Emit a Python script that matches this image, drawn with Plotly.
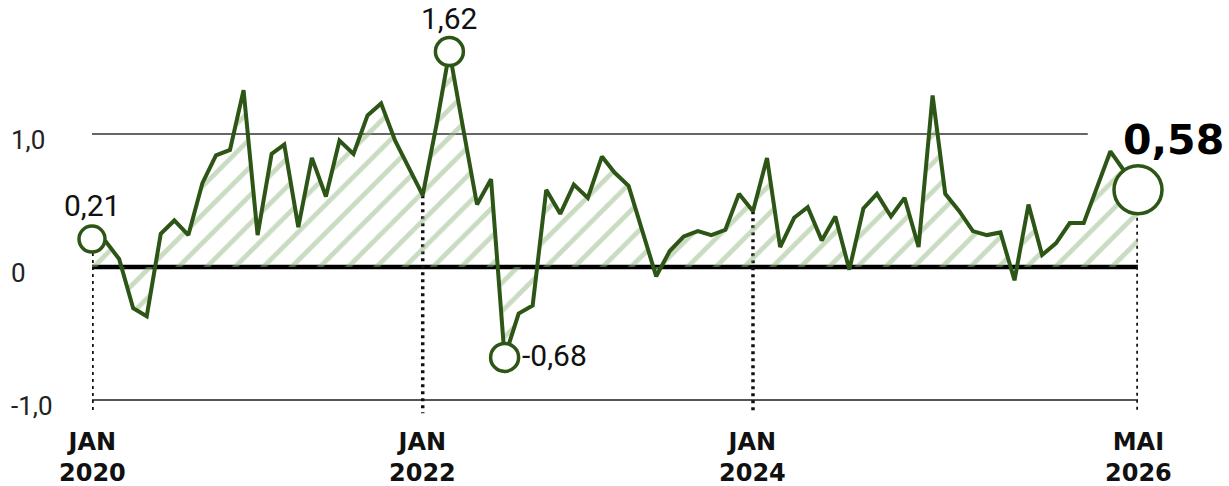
import plotly.graph_objects as go
import pandas as pd

# Monthly series, Jan 2020 .. May 2026
months = pd.date_range("2020-01-01", "2026-05-01", freq="MS")
values = [
    0.21, 0.19, 0.06, -0.31, -0.37, 0.25, 0.35, 0.24, 0.63, 0.84,
    0.88, 1.33, 0.24, 0.85, 0.92, 0.30, 0.82, 0.53, 0.95, 0.85,
    1.14, 1.23, 0.95, 0.74, 0.54, 1.08, 1.62, 1.03, 0.47, 0.66,
    -0.68, -0.35, -0.29, 0.58, 0.40, 0.62, 0.52, 0.83, 0.71, 0.61,
    0.28, -0.07, 0.12, 0.23, 0.27, 0.24, 0.28, 0.55, 0.42, 0.82,
    0.15, 0.37, 0.45, 0.20, 0.38, -0.02, 0.44, 0.55, 0.38, 0.52,
    0.15, 1.29, 0.55, 0.42, 0.27, 0.24, 0.26, -0.10, 0.47, 0.09,
    0.18, 0.33, 0.33, 0.62, 0.87, 0.72, 0.58,
]

# Highlighted points: first, max, min, last
highlight_idx = [0, 26, 30, 76]
highlight_text = ["0,21", "1,62", "-0,68", "0,58"]

# Axis labels
y_tick_vals = [1.0, 0.0, -1.0]
y_tick_text = ["1,0", "0", "-1,0"]
x_tick_idx = [0, 24, 48, 76]
x_tick_text = ["JAN<br>2020", "JAN<br>2022", "JAN<br>2024", "MAI<br>2026"]

GREEN = "#2c5516"
HATCH = "#94b983"
LIGHT = "Roboto, sans-serif"
BOLD = "DejaVu Sans"

fig = go.Figure()

# hatched area between the curve and zero
fig.add_trace(go.Scatter(
    x=months, y=values, mode="lines", fill="tozeroy",
    line=dict(width=0, color="rgba(0,0,0,0)"),
    fillcolor=HATCH,
    fillpattern=dict(shape="/", fgcolor=HATCH, bgcolor="rgba(255,255,255,0)",
                     size=20, solidity=0.24),
    hoverinfo="skip", showlegend=False,
))

# main curve
fig.add_trace(go.Scatter(
    x=months, y=values, mode="lines",
    line=dict(color=GREEN, width=4),
    showlegend=False,
))

# highlighted circles
hx = [months[i] for i in highlight_idx]
hy = [values[i] for i in highlight_idx]
fig.add_trace(go.Scatter(
    x=hx, y=hy, mode="markers",
    marker=dict(size=[26, 28, 28, 48], color="white", opacity=1,
                line=dict(color=GREEN, width=3.5)),
    cliponaxis=False, showlegend=False,
))

shapes = []
# reference lines
shapes.append(dict(type="line", xref="x", yref="y", layer="below",
                   x0=months[0], x1=pd.Timestamp("2026-01-10"), y0=1.0, y1=1.0,
                   line=dict(color="#333333", width=1.5)))
shapes.append(dict(type="line", xref="x", yref="y", layer="below",
                   x0=months[0], x1=months[-1], y0=-1.0, y1=-1.0,
                   line=dict(color="#555555", width=2)))
shapes.append(dict(type="line", xref="x", yref="y", layer="below",
                   x0=months[0], x1=months[-1], y0=0, y1=0,
                   line=dict(color="#000000", width=4.5)))
# dotted drop lines at the labelled dates
for i in x_tick_idx:
    shapes.append(dict(type="line", xref="x", yref="y", layer="below",
                       x0=months[i], x1=months[i], y0=values[i], y1=-1.1,
                       line=dict(color="#111111", width=3.5, dash="3px,4px")))

annotations = []
# y axis labels, left aligned
for v, t in zip(y_tick_vals, y_tick_text):
    annotations.append(dict(x=-0.079, xref="paper", y=v, yref="y", yshift=-6,
                            text=t, showarrow=False, xanchor="left", yanchor="middle",
                            font=dict(family=LIGHT, size=26, color="#222222")))
# x axis labels
for i, t in zip(x_tick_idx, x_tick_text):
    annotations.append(dict(x=months[i], xref="x", y=-1.0, yref="y", yshift=-26,
                            text=t, showarrow=False, xanchor="center", yanchor="top",
                            font=dict(family=BOLD, size=24, color="#111111", weight="bold")))
# value labels on highlighted points
annotations.append(dict(x=hx[0], y=hy[0], text=highlight_text[0], showarrow=False,
                        xanchor="center", yanchor="bottom", yshift=14,
                        font=dict(family=LIGHT, size=30, color="#111111")))
annotations.append(dict(x=hx[1], y=hy[1], text=highlight_text[1], showarrow=False,
                        xanchor="center", yanchor="bottom", yshift=14,
                        font=dict(family=LIGHT, size=30, color="#111111")))
annotations.append(dict(x=hx[2], y=hy[2], text=highlight_text[2], showarrow=False,
                        xanchor="left", yanchor="middle", xshift=15, yshift=2,
                        font=dict(family=LIGHT, size=30, color="#111111")))
annotations.append(dict(x=hx[3], y=hy[3], text=highlight_text[3], showarrow=False,
                        xanchor="left", yanchor="middle", xshift=-17, yshift=50,
                        font=dict(family=BOLD, size=41, color="#000000", weight="bold")))

fig.update_layout(
    width=1229, height=486,
    margin=dict(l=92, r=91, t=14, b=46),
    paper_bgcolor="white", plot_bgcolor="white",
    xaxis=dict(range=[months[0], months[-1]], showgrid=False, zeroline=False,
               showticklabels=False, showline=False),
    yaxis=dict(range=[-1.3008, 1.9023], showgrid=False, zeroline=False,
               showticklabels=False, showline=False),
    shapes=shapes, annotations=annotations,
    showlegend=False,
)

fig.write_html("out.html")
